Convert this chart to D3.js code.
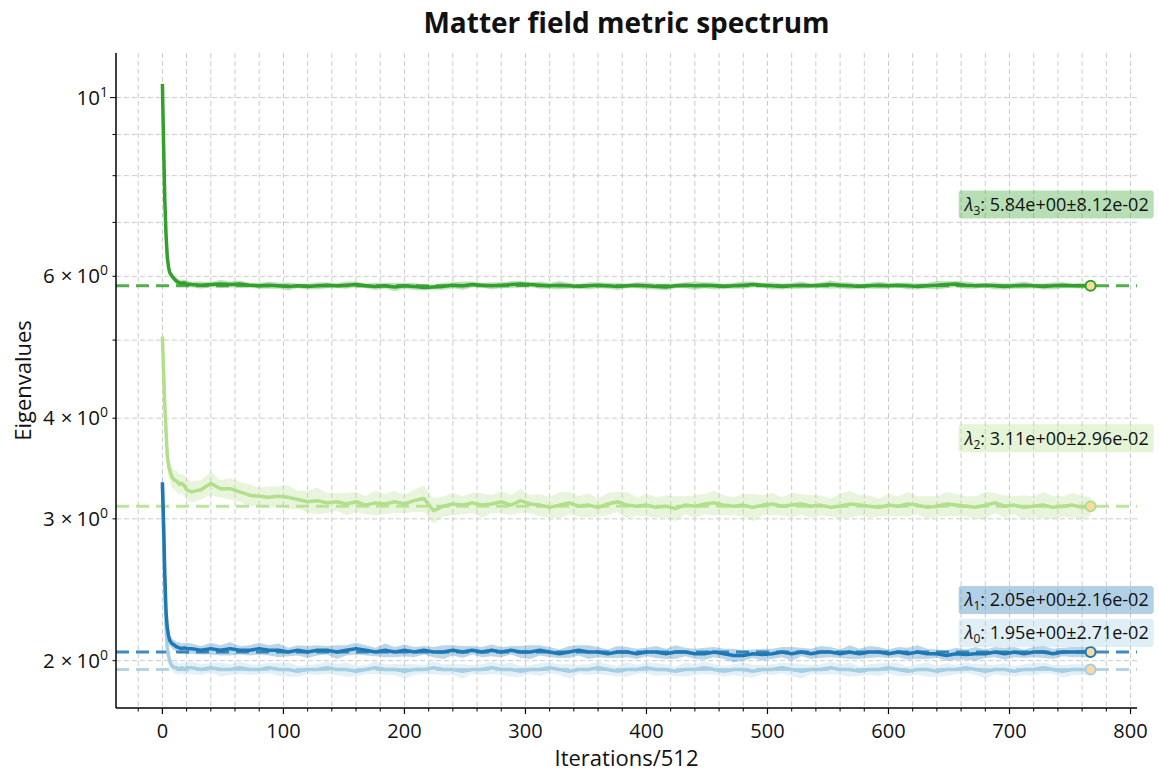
<!DOCTYPE html>
<html><head><meta charset="utf-8">
<script src="https://cdn.jsdelivr.net/npm/d3@7"></script>
<style>body{margin:0;background:#fff}svg{display:block;font-family:"Open Sans","DejaVu Sans",sans-serif}</style>
</head><body><svg id="c" width="1159" height="771"></svg>
<script>
const iters = [0,1,2,3,4,5,6,7,8,10,12,14,16,18,20,
24,32,40,48,56,64,72,80,
88,96,104,112,120,128,136,144,
152,160,168,176,184,192,200,208,
216,224,232,240,248,256,264,272,
280,288,296,304,312,320,328,336,
344,352,360,368,376,384,392,400,
408,416,424,432,440,448,456,464,
472,480,488,496,504,512,520,528,
536,544,552,560,568,576,584,592,
600,608,616,624,632,640,648,656,
664,672,680,688,696,704,712,720,
728,736,744,752,760,767];

const lam0 = [3.3,2.85,2.45,2.2,2.08,2.03,2.0,1.98,1.97,1.96,1.96,1.95,1.96,1.95,1.96,
1.96,1.95,1.96,1.95,1.95,1.96,1.95,1.95,
1.96,1.95,1.95,1.94,1.95,1.95,1.96,1.95,
1.95,1.94,1.95,1.96,1.95,1.95,1.94,1.95,
1.95,1.96,1.95,1.95,1.94,1.95,1.95,1.96,
1.95,1.95,1.94,1.95,1.95,1.96,1.95,1.94,
1.95,1.95,1.96,1.95,1.94,1.95,1.95,1.96,
1.95,1.95,1.94,1.95,1.95,1.96,1.95,1.94,
1.95,1.95,1.94,1.95,1.95,1.96,1.95,1.94,
1.95,1.95,1.96,1.95,1.95,1.94,1.95,1.95,
1.96,1.95,1.94,1.95,1.95,1.94,1.95,1.95,
1.96,1.95,1.94,1.95,1.95,1.94,1.95,1.95,
1.96,1.95,1.94,1.95,1.95,1.95];
const lam0Spread = [0.18,0.1,0.07,0.05,0.04,0.035,0.03,0.03,0.03,0.03,0.035,0.03,0.03,0.035,0.03,
0.035,0.03,0.025,0.04,0.03,0.035,0.03,0.025,
0.03,0.035,0.04,0.03,0.025,0.03,0.035,0.03,
0.04,0.03,0.025,0.035,0.03,0.03,0.04,0.03,
0.025,0.035,0.03,0.03,0.04,0.025,0.03,0.035,
0.03,0.04,0.03,0.025,0.035,0.03,0.03,0.04,
0.025,0.03,0.035,0.03,0.03,0.04,0.025,0.03,
0.035,0.03,0.025,0.04,0.03,0.035,0.03,0.03,
0.03,0.04,0.035,0.025,0.03,0.03,0.035,0.04,
0.025,0.03,0.035,0.03,0.04,0.025,0.03,0.035,
0.03,0.035,0.025,0.03,0.04,0.03,0.035,0.025,
0.03,0.03,0.04,0.025,0.035,0.03,0.03,0.035,
0.03,0.025,0.035,0.03,0.03,0.03];

const lam1 = [3.33,2.95,2.55,2.30,2.20,2.15,2.12,2.11,2.10,2.09,2.08,2.075,2.07,2.075,2.07,
2.07,2.06,2.07,2.06,2.07,2.06,2.06,2.07,
2.06,2.06,2.05,2.06,2.05,2.06,2.06,2.05,
2.06,2.07,2.06,2.05,2.06,2.05,2.06,2.05,
2.06,2.05,2.05,2.06,2.05,2.06,2.05,2.06,
2.05,2.06,2.05,2.05,2.06,2.05,2.04,2.05,
2.06,2.05,2.05,2.04,2.05,2.05,2.04,2.05,
2.05,2.04,2.05,2.05,2.04,2.04,2.05,2.04,
2.03,2.03,2.04,2.035,2.04,2.05,2.04,2.05,
2.04,2.05,2.05,2.04,2.05,2.04,2.05,2.05,
2.04,2.05,2.04,2.05,2.04,2.04,2.03,2.04,
2.035,2.04,2.04,2.05,2.04,2.05,2.04,2.05,
2.05,2.04,2.05,2.05,2.05,2.05];
const lam1Spread = [0.15,0.1,0.07,0.05,0.04,0.04,0.035,0.03,0.03,0.03,0.03,0.035,0.03,0.03,0.035,
0.03,0.025,0.035,0.03,0.04,0.025,0.03,0.035,
0.03,0.04,0.025,0.03,0.035,0.03,0.025,0.04,
0.03,0.035,0.03,0.025,0.04,0.03,0.035,0.03,
0.025,0.03,0.04,0.03,0.035,0.025,0.03,0.035,
0.03,0.025,0.035,0.04,0.03,0.03,0.025,0.035,
0.03,0.04,0.03,0.025,0.035,0.03,0.03,0.025,
0.035,0.03,0.04,0.025,0.03,0.035,0.03,0.03,
0.04,0.03,0.025,0.035,0.03,0.03,0.04,0.025,
0.03,0.035,0.03,0.025,0.04,0.03,0.035,0.03,
0.025,0.03,0.035,0.04,0.03,0.025,0.03,0.035,
0.03,0.04,0.025,0.03,0.035,0.03,0.025,0.03,
0.035,0.03,0.025,0.03,0.03,0.03];

const lam2 = [5.05,4.55,4.15,3.85,3.6,3.5,3.45,3.41,3.38,3.35,3.34,3.31,3.32,3.30,3.26,
3.24,3.26,3.32,3.27,3.27,3.24,3.21,3.20,
3.19,3.20,3.19,3.17,3.15,3.16,3.14,3.15,
3.13,3.15,3.12,3.14,3.13,3.15,3.13,3.16,
3.18,3.07,3.11,3.13,3.12,3.14,3.12,3.13,
3.15,3.12,3.16,3.13,3.12,3.10,3.12,3.14,
3.11,3.12,3.10,3.13,3.15,3.12,3.11,3.12,
3.10,3.11,3.09,3.12,3.11,3.13,3.14,3.12,
3.11,3.12,3.10,3.12,3.13,3.11,3.12,3.13,
3.11,3.12,3.10,3.11,3.13,3.12,3.11,3.10,
3.12,3.11,3.13,3.12,3.10,3.11,3.13,3.12,
3.11,3.10,3.12,3.14,3.11,3.12,3.10,3.11,
3.12,3.10,3.11,3.12,3.10,3.11];
const lam2Spread = [0.5,0.35,0.25,0.18,0.14,0.12,0.1,0.1,0.1,0.09,0.1,0.1,0.09,0.1,0.1,
0.1,0.09,0.11,0.08,0.1,0.09,0.1,0.08,
0.1,0.09,0.11,0.08,0.1,0.12,0.09,0.08,
0.1,0.09,0.08,0.11,0.09,0.1,0.08,0.1,
0.12,0.11,0.09,0.1,0.08,0.09,0.11,0.08,
0.1,0.09,0.11,0.08,0.1,0.09,0.12,0.1,
0.09,0.11,0.08,0.1,0.09,0.12,0.08,0.1,
0.09,0.1,0.11,0.08,0.1,0.09,0.11,0.09,
0.08,0.1,0.12,0.09,0.1,0.08,0.11,0.09,
0.1,0.09,0.08,0.11,0.12,0.09,0.1,0.08,
0.1,0.09,0.11,0.08,0.1,0.09,0.11,0.1,
0.09,0.1,0.12,0.09,0.1,0.08,0.11,0.09,
0.12,0.1,0.09,0.11,0.1,0.08];

const lam3 = [10.4,8.7,7.45,6.75,6.35,6.17,6.07,6.03,6.0,5.95,5.91,5.89,5.88,5.89,5.87,
5.86,5.85,5.86,5.87,5.86,5.87,5.85,5.84,
5.85,5.84,5.83,5.84,5.83,5.84,5.85,5.84,
5.85,5.86,5.84,5.83,5.84,5.82,5.84,5.83,
5.81,5.82,5.83,5.85,5.84,5.86,5.85,5.84,
5.85,5.86,5.87,5.86,5.85,5.84,5.85,5.84,
5.83,5.84,5.85,5.84,5.83,5.84,5.85,5.84,
5.83,5.82,5.84,5.85,5.84,5.85,5.84,5.83,
5.84,5.85,5.86,5.85,5.84,5.83,5.84,5.85,
5.84,5.85,5.86,5.85,5.84,5.83,5.84,5.85,
5.84,5.85,5.84,5.83,5.84,5.85,5.86,5.87,
5.85,5.84,5.85,5.84,5.83,5.84,5.85,5.84,
5.83,5.84,5.85,5.84,5.84,5.84];
const lam3Spread = [0.1,0.09,0.08,0.07,0.06,0.05,0.05,0.05,0.05,0.05,0.06,0.05,0.06,0.05,0.06,
0.05,0.06,0.04,0.07,0.05,0.06,0.04,0.05,
0.06,0.05,0.07,0.04,0.05,0.06,0.05,0.04,
0.06,0.05,0.04,0.06,0.05,0.07,0.05,0.06,
0.05,0.04,0.06,0.05,0.07,0.05,0.04,0.06,
0.05,0.06,0.05,0.04,0.06,0.05,0.07,0.05,
0.04,0.06,0.05,0.05,0.06,0.04,0.05,0.06,
0.05,0.06,0.04,0.05,0.07,0.05,0.06,0.04,
0.05,0.06,0.05,0.04,0.06,0.05,0.05,0.06,
0.04,0.05,0.07,0.05,0.06,0.04,0.05,0.06,
0.05,0.04,0.06,0.05,0.05,0.07,0.06,0.05,
0.06,0.05,0.04,0.06,0.05,0.05,0.06,0.04,
0.05,0.06,0.05,0.04,0.05,0.04];

const seriesNames = ["0","1","2","3"];
const meanValues = [1.95, 2.05, 3.11, 5.84];
const meanText = ["1.95e+00","2.05e+00","3.11e+00","5.84e+00"];
const stdText = ["2.71e-02","2.16e-02","2.96e-02","8.12e-02"];
const labelAnchorVals = [2.165, 2.379, 3.778, 7.37];
const labelAnchorIter = 658;
const colors = ["#a6cee3","#1f78b4","#b2df8a","#33a02c"];
const xMajorTicks = [0,100,200,300,400,500,600,700,800];
const xMinorTicks = [-20,20,40,60,80,120,140,160,180,220,240,260,280,320,340,360,380,420,440,460,480,520,540,560,580,620,640,660,680,720,740,760,780];
const yGridVals = [2,3,4,5,6,7,8,9,10];
const yLabelVals = [2,3,4,6,10];
const yLabelMant = ["2","3","4","6",""];
const yLabelExp = ["0","0","0","0","1"];

const values = [lam0, lam1, lam2, lam3];
const spreads = [lam0Spread, lam1Spread, lam2Spread, lam3Spread];

const L = 116, R = 1137, T = 53, B = 708;
const svg = d3.select("#c");
const x = d3.scaleLinear().domain([-38.35, 805.35]).range([L, R]);
const y = d3.scaleLog().domain([1.747, 11.36]).range([B, T]);

svg.append("defs").append("clipPath").attr("id","clip")
  .append("rect").attr("x",L).attr("y",T).attr("width",R-L).attr("height",B-T);

// grid
const grid = svg.append("g").attr("stroke","#cccccc").attr("stroke-width",1).attr("stroke-dasharray","5,3");
grid.selectAll(".vx").data(xMajorTicks.concat(xMinorTicks).filter(v=>x(v)>=L&&x(v)<=R)).join("line")
  .attr("x1",d=>x(d)).attr("x2",d=>x(d)).attr("y1",T).attr("y2",B);
grid.selectAll(".hy").data(yGridVals).join("line")
  .attr("x1",L).attr("x2",R).attr("y1",d=>y(d)).attr("y2",d=>y(d));

const plot = svg.append("g").attr("clip-path","url(#clip)");

// dashed mean lines
plot.selectAll(".mean").data(meanValues).join("line")
  .attr("x1",L).attr("x2",R).attr("y1",d=>y(d)).attr("y2",d=>y(d))
  .attr("stroke",(d,i)=>colors[i]).attr("stroke-opacity",0.85)
  .attr("stroke-width",3).attr("stroke-dasharray","13,7");

const area = d3.area().x(d=>x(d.x)).y0(d=>y(d.v-d.s)).y1(d=>y(d.v+d.s));
const line = d3.line().x(d=>x(d.x)).y(d=>y(d.v));

values.forEach((vals,i)=>{
  const pts = iters.map((it,k)=>({x:it, v:vals[k], s:spreads[i][k]}));
  plot.append("path").datum(pts).attr("d",area).attr("fill",colors[i]).attr("fill-opacity",0.3);
});
values.forEach((vals,i)=>{
  const pts = iters.map((it,k)=>({x:it, v:vals[k]}));
  plot.append("path").datum(pts).attr("d",line).attr("fill","none")
    .attr("stroke",colors[i]).attr("stroke-width",3.5).attr("stroke-linejoin","round");
});
values.forEach((vals,i)=>{
  const n = iters.length-1;
  plot.append("circle").attr("cx",x(iters[n])).attr("cy",y(vals[n])).attr("r",5)
    .attr("fill","#fdd9a2").attr("stroke",colors[i]).attr("stroke-width",2);
});

// axes
const ax = svg.append("g").attr("stroke","#000");
ax.append("line").attr("x1",L).attr("x2",L).attr("y1",T).attr("y2",B).attr("stroke-width",1.5);
ax.append("line").attr("x1",L).attr("x2",R).attr("y1",B).attr("y2",B).attr("stroke-width",1.5);
ax.selectAll(".xt").data(xMajorTicks).join("line")
  .attr("x1",d=>x(d)).attr("x2",d=>x(d)).attr("y1",B).attr("y2",B+6).attr("stroke-width",1.2);
ax.selectAll(".xm").data(xMinorTicks).join("line")
  .attr("x1",d=>x(d)).attr("x2",d=>x(d)).attr("y1",B).attr("y2",B+3.5).attr("stroke-width",1);
ax.selectAll(".yt").data(yGridVals).join("line")
  .attr("x1",d=>L-(d===10?6:3.5)).attr("x2",L).attr("y1",d=>y(d)).attr("y2",d=>y(d)).attr("stroke-width",1);

svg.append("g").selectAll("text").data(xMajorTicks).join("text")
  .attr("x",d=>x(d)).attr("y",B+30).attr("text-anchor","middle")
  .attr("font-size",20).attr("fill","#111").text(d=>d);

const yl = svg.append("g").selectAll("text").data(yLabelVals).join("text")
  .attr("x",L-8).attr("y",d=>y(d)+7).attr("text-anchor","end")
  .attr("font-size",20.5).attr("fill","#111");
yl.each(function(d,i){
  const t = d3.select(this);
  if (yLabelMant[i]) {
    t.append("tspan").text(yLabelMant[i]);
    t.append("tspan").attr("dx",6).text("\u00d7");
    t.append("tspan").attr("dx",4).text("10");
  } else t.append("tspan").text("10");
  t.append("tspan").attr("dy",-8).attr("font-size",14).text(yLabelExp[i]);
});

svg.append("text").attr("x",(L+R)/2).attr("y",33).attr("text-anchor","middle")
  .attr("font-size",28).attr("font-weight","bold").attr("fill","#111").text("Matter field metric spectrum");
svg.append("text").attr("x",(L+R)/2).attr("y",766).attr("text-anchor","middle")
  .attr("font-size",22).attr("fill","#111").text("Iterations/512");
svg.append("text").attr("transform",`translate(31,${(T+B)/2}) rotate(-90)`).attr("text-anchor","middle")
  .attr("font-size",22).attr("fill","#111").text("Eigenvalues");

// annotation boxes
const ann = svg.append("g");
meanValues.forEach((m,i)=>{
  const g = ann.append("g");
  const tx = x(labelAnchorIter)+6, ty = y(labelAnchorVals[i]);
  const rect = g.append("rect").attr("fill",colors[i]).attr("fill-opacity",0.35).attr("rx",3);
  const t = g.append("text").attr("x",tx).attr("y",ty+6.5).attr("font-size",18).attr("fill","#111");
  t.append("tspan").attr("font-style","italic").text("\u03bb");
  t.append("tspan").attr("font-size",12).attr("dy",4).text(seriesNames[i]);
  t.append("tspan").attr("dy",-4).text(": "+meanText[i]+"\u00b1"+stdText[i]);
  const bb = t.node().getBBox();
  rect.attr("x",bb.x-5).attr("y",ty-14).attr("width",bb.width+10).attr("height",28);
});
</script></body></html>
